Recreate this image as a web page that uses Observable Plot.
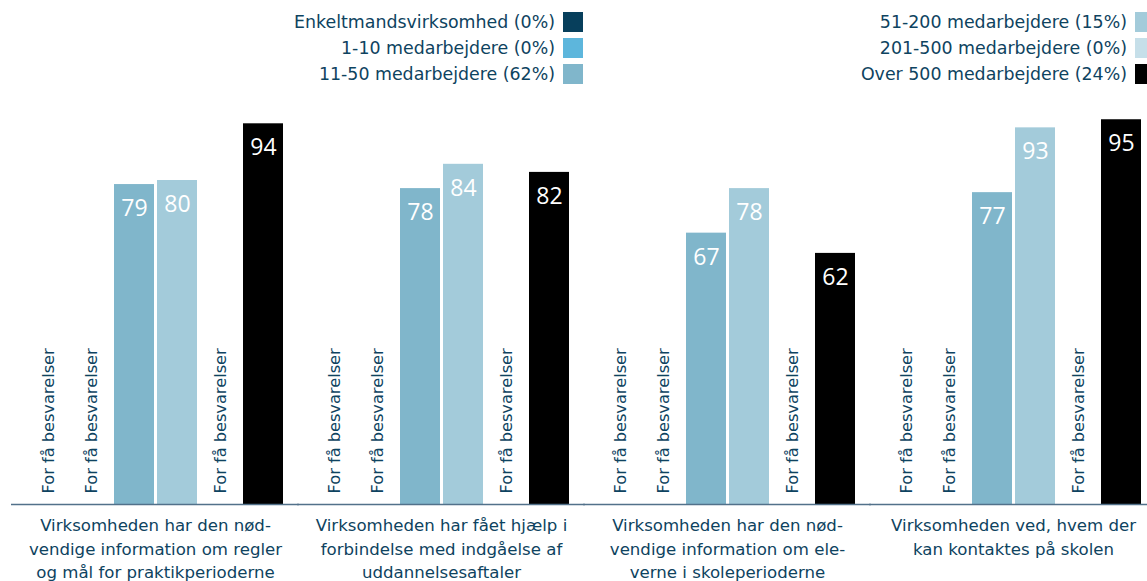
<!DOCTYPE html>
<html>
<head>
<meta charset="utf-8">
<script src="https://cdn.jsdelivr.net/npm/d3@7"></script>
<script src="https://cdn.jsdelivr.net/npm/@observablehq/plot@0.6"></script>
<style>
  html, body { margin: 0; padding: 0; background: #fff; width: 1147px; height: 581px; overflow: hidden; }
  #legend { position: relative; height: 90px; font-family: "DejaVu Sans", sans-serif; font-size: 17.4px; color: #0e4360; }
  .lcol { position: absolute; top: 12px; }
  .lrow { display: flex; justify-content: flex-end; align-items: center; height: 20px; margin-bottom: 6px; white-space: nowrap; }
  .sw { width: 20px; height: 20px; margin-left: 8px; flex: none; }
  #chart svg { display: block; }
</style>
</head>
<body>
<div id="legend"></div>
<div id="chart"></div>
<script>
// ---- data ----
const categories = ["Regler og mål", "Uddannelsesaftaler", "Skoleperioderne", "Kontakt på skolen"];
const categoryLabels = [
  "Virksomheden har den nød-\nvendige information om regler\nog mål for praktikperioderne",
  "Virksomheden har fået hjælp i\nforbindelse med indgåelse af\nuddannelsesaftaler",
  "Virksomheden har den nød-\nvendige information om ele-\nverne i skoleperioderne",
  "Virksomheden ved, hvem der\nkan kontaktes på skolen"
];
const series = ["Enkeltmandsvirksomhed", "1-10 medarbejdere", "11-50 medarbejdere", "51-200 medarbejdere", "201-500 medarbejdere", "Over 500 medarbejdere"];
const sharePct = [0, 0, 62, 15, 0, 24];
const valuesEnkelt   = [null, null, null, null];
const values1to10    = [null, null, null, null];
const values11to50   = [79, 78, 67, 77];
const values51to200  = [80, 84, 78, 93];
const values201to500 = [null, null, null, null];
const valuesOver500  = [94, 82, 62, 95];
const noteText = "For få besvarelser";

const seriesValues = [valuesEnkelt, values1to10, values11to50, values51to200, values201to500, valuesOver500];
const colors = ["#073f5c", "#5db6dc", "#80b6cb", "#a3cbda", "#c6dfe9", "#000000"];
const textColor = "#0e4360";

const rows = [];
categories.forEach((c, i) => series.forEach((s, j) => rows.push({category: c, series: s, value: seriesValues[j][i]})));

// ---- legend (HTML) ----
const legend = document.getElementById("legend");
const cols = [{right: 564, items: [0, 1, 2]}, {right: -8, items: [3, 4, 5]}];
cols.forEach(col => {
  const div = document.createElement("div");
  div.className = "lcol";
  div.style.right = col.right + "px";
  col.items.forEach(j => {
    const row = document.createElement("div");
    row.className = "lrow";
    row.innerHTML = `<span>${series[j]} (${sharePct[j]}%)</span><span class="sw" style="background:${colors[j]}"></span>`;
    div.appendChild(row);
  });
  legend.appendChild(div);
});

// ---- chart ----
const chart = Plot.plot({
  width: 1147,
  height: 491,
  marginTop: 9,
  marginBottom: 77,
  marginLeft: 20,
  marginRight: 0,
  style: {fontFamily: "DejaVu Sans, sans-serif", background: "white", overflow: "visible"},
  fx: {domain: categories, paddingInner: 0.0995, paddingOuter: 0.0157, axis: null, label: null},
  x: {domain: series, paddingInner: 3 / 43, paddingOuter: 1.5 / 43, axis: null},
  y: {domain: [0, 100], axis: null},
  color: {domain: series, range: colors},
  marks: [
    Plot.barY(rows.filter(d => d.value != null), {fx: "category", x: "series", y: "value", fill: "series"}),
    Plot.text(rows.filter(d => d.value != null), {fx: "category", x: "series", y: "value", text: d => String(d.value), fill: "white", dy: 24, fontSize: 23, fontFamily: "Open Sans, sans-serif"}),
    Plot.text(rows.filter(d => d.value == null), {fx: "category", x: "series", y: () => 0, text: () => noteText, rotate: -90, textAnchor: "start", dy: -11, fill: textColor, fontSize: 16.2}),
    Plot.ruleY([0], {stroke: "#52718a", strokeWidth: 1.5, insetLeft: -15, insetRight: -15}),
    Plot.text(categories, {fx: d => d, text: (d, i) => categoryLabels[i], frameAnchor: "bottom", lineAnchor: "top", dy: 10, fontSize: 16.6, lineHeight: 1.42, fill: textColor})
  ]
});
document.getElementById("chart").appendChild(chart);
</script>
</body>
</html>
